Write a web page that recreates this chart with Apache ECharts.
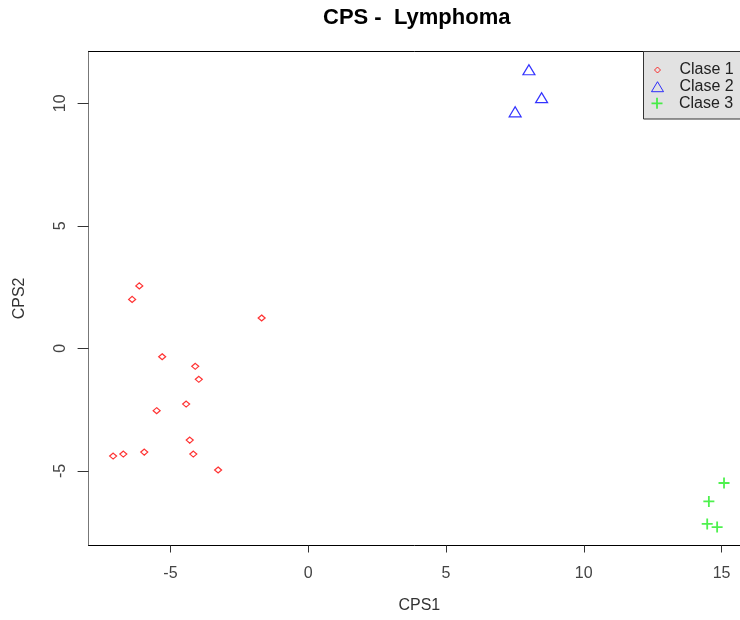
<!DOCTYPE html>
<html>
<head>
<meta charset="utf-8">
<script src="https://cdn.jsdelivr.net/npm/echarts@6/dist/echarts.min.js"></script>
<style>
  html, body { margin: 0; padding: 0; background: #ffffff; }
  #chart { width: 740px; height: 620px; }
</style>
</head>
<body>
<div id="chart"></div>
<script>
// Scores on the first two CPS components, one array pair per class
const clase1X = [-6.13, -6.39, -1.69, -5.30, -4.10, -3.97, -4.43, -5.50, -4.30, -7.08, -6.71, -5.95, -4.17, -3.27];
const clase1Y = [2.55, 2.00, 1.24, -0.34, -0.73, -1.26, -2.27, -2.54, -3.74, -4.39, -4.31, -4.23, -4.31, -4.96];
const clase2X = [8.01, 8.47, 7.51];
const clase2Y = [11.37, 10.23, 9.65];
const clase3X = [15.09, 14.54, 14.48, 14.84];
const clase3Y = [-5.49, -6.24, -7.16, -7.29];

const classNames = ['Clase 1', 'Clase 2', 'Clase 3'];
const xTicks = [-5, 0, 5, 10, 15];
const yTicks = [-5, 0, 5, 10];
// visible window; the plot box runs past the right edge of the canvas
const xRange = [-7.97, 15.67];
const yRange = [-8.04, 12.12];

const FONT = 'Liberation Sans, Arial, sans-serif';

function pairs(xs, ys) {
  return xs.map((x, i) => [x, ys[i]]);
}

const plusPath = 'path://M4.6,0H6.4V4.6H11V6.4H6.4V11H4.6V6.4H0V4.6H4.6Z';

const chart = echarts.init(document.getElementById('chart'), null, { renderer: 'canvas' });

chart.setOption({
  backgroundColor: '#ffffff',
  animation: false,
  title: {
    text: 'CPS -  Lymphoma',
    left: 323,
    top: 7,
    padding: 0,
    textStyle: { fontFamily: FONT, fontSize: 22, fontWeight: 'bold', color: '#000' }
  },
  grid: {
    left: 88.6,
    top: 51.3,
    right: 0,
    bottom: 74.5,
    show: false
  },
  graphic: [{
    type: 'rect',
    z: 5,
    shape: { x: 643.5, y: 51.5, width: 110, height: 67.5 },
    style: { fill: '#e2e2e2', stroke: '#333', lineWidth: 1 }
  }],
  legend: [
    {
      data: [classNames[0]], z: 10, padding: 0, left: 654, top: 62,
      itemWidth: 6, itemHeight: 6,
      itemStyle: { borderWidth: 1 },
      textStyle: { fontFamily: FONT, fontSize: 16, color: '#222', padding: [0, 0, 0, 14] }
    },
    {
      data: [classNames[1]], z: 10, padding: 0, left: 651, top: 78.7,
      itemWidth: 12, itemHeight: 10,
      itemStyle: { borderWidth: 1 },
      textStyle: { fontFamily: FONT, fontSize: 16, color: '#222', padding: [0, 0, 0, 11] }
    },
    {
      data: [classNames[2]], z: 10, padding: 0, left: 651.5, top: 95.3,
      itemWidth: 11, itemHeight: 11,
      textStyle: { fontFamily: FONT, fontSize: 16, color: '#222', padding: [0, 0, 0, 11.5] }
    }
  ],
  xAxis: [
    {
      type: 'value',
      position: 'bottom',
      min: xRange[0],
      max: xRange[1],
      name: 'CPS1',
      nameLocation: 'middle',
      nameGap: 52,
      nameTextStyle: { fontFamily: FONT, fontSize: 16, color: '#333', padding: [0, 0, 0, 10] },
      axisLine: { show: true, onZero: false, lineStyle: { color: '#000', width: 1 } },
      axisTick: { show: true, length: 7, customValues: xTicks, lineStyle: { color: '#333' } },
      axisLabel: { customValues: xTicks, margin: 20, fontFamily: FONT, fontSize: 16, color: '#444' },
      splitLine: { show: false }
    },
    {
      // top edge of the plot box
      type: 'value',
      position: 'top',
      min: xRange[0],
      max: xRange[1],
      axisLine: { show: true, onZero: false, lineStyle: { color: '#000', width: 1 } },
      axisTick: { show: false },
      axisLabel: { show: false },
      splitLine: { show: false }
    }
  ],
  yAxis: {
    type: 'value',
    min: yRange[0],
    max: yRange[1],
    name: 'CPS2',
    nameLocation: 'middle',
    nameGap: 61,
    nameRotate: 90,
    nameTextStyle: { fontFamily: FONT, fontSize: 16, color: '#333' },
    axisLine: { show: true, onZero: false, lineStyle: { color: '#777', width: 1 } },
    axisTick: { show: true, length: 11, customValues: yTicks, lineStyle: { color: '#333' } },
    axisLabel: { customValues: yTicks, rotate: 90, margin: 20, fontFamily: FONT, fontSize: 16, color: '#444' },
    splitLine: { show: false }
  },
  series: [
    {
      name: classNames[0],
      type: 'scatter',
      symbol: 'diamond',
      symbolSize: [7, 6],
      itemStyle: { color: 'rgba(255,255,255,0)', borderColor: '#ff0000', borderWidth: 1.2 },
      data: pairs(clase1X, clase1Y)
    },
    {
      name: classNames[1],
      type: 'scatter',
      symbol: 'triangle',
      symbolSize: [12, 10],
      itemStyle: { color: 'rgba(255,255,255,0)', borderColor: '#0000ff', borderWidth: 1.2 },
      data: pairs(clase2X, clase2Y)
    },
    {
      name: classNames[2],
      type: 'scatter',
      symbol: plusPath,
      symbolSize: 11,
      itemStyle: { color: '#22ee22' },
      data: pairs(clase3X, clase3Y)
    }
  ]
});
</script>
</body>
</html>
